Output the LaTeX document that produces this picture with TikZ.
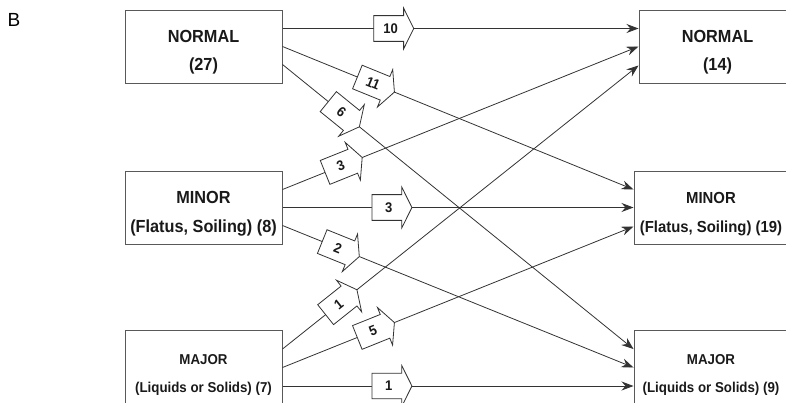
\documentclass[tikz,border=0pt]{standalone}
\usepackage{fontspec}
\setmainfont{Liberation Sans}
\newfontfamily\narrowsans[FakeStretch=0.93]{Liberation Sans}
\usetikzlibrary{positioning,shapes.arrows,arrows.meta}

\newcommand{\twoline}[3]{\rule{0pt}{24pt}#2\\[#1]#3}

\tikzset{
  grade/.style={draw=black!65, line width=1pt, inner sep=2pt, align=center, text=black!90},
  gradebig/.style={grade, minimum width=157pt, minimum height=73pt,
    font=\narrowsans\bfseries\fontsize{17.5}{21}\selectfont},
  gradesmall/.style={grade, minimum width=157pt, minimum height=75pt,
    font=\narrowsans\bfseries\fontsize{14.3}{17}\selectfont},
  flow/.style={draw=black!80, line width=0.8pt, fill=white, single arrow,
    single arrow head extend=7.5pt, single arrow tip angle=127,
    minimum height=40pt, minimum width=40pt, inner sep=7.5pt,
    anchor=tip, sloped, text=black!90,
    font=\narrowsans\bfseries\fontsize{14}{16}\selectfont},
}

\begin{document}
\begin{tikzpicture}[x=1pt, y=-1pt, line width=0.8pt, draw=black!80,
    >={Stealth[length=12pt,width=9pt,inset=4pt]}]
    \useasboundingbox (0,0) rectangle (786,402);
    \node[font=\fontsize{19}{22}\selectfont] (panel) at (14,20) {B};
    % before
    \node[gradebig] (norml) at (203.5,46.5) {\twoline{7pt}{NORMAL}{(27)}};
    \node[gradebig, below = 87pt of norml] (minl) {\twoline{8pt}{MINOR}{(Flatus, Soiling) (8)}};
    \node[gradesmall, below = 85pt of minl] (majl) {\twoline{11pt}{MAJOR}{(Liquids or Solids) (7)}};
    % after
    \node[gradebig, right = 356pt of norml] (normr) {\twoline{7pt}{NORMAL}{(14)}};
    \node[gradebig, minimum width=154pt, font=\narrowsans\bfseries\fontsize{16}{20}\selectfont,
      right = 351pt of minl] (minr) {\twoline{9pt}{MINOR}{(Flatus, Soiling) (19)}};
    \node[gradesmall, minimum width=154pt, right = 351pt of majl] (majr) {\twoline{11pt}{MAJOR}{(Liquids or Solids) (9)}};
    % from normal
    \draw[->] ([yshift=18pt]norml.east) -- node[flow, pos=.37] {10} ([yshift=18pt]normr.west);
    \draw[->] (norml.east) -- node[flow, pos=.32] {11} ([yshift=18pt]minr.west);
    \draw[->] ([yshift=-18pt]norml.east) -- node[flow, pos=.22] {6} ([yshift=18.5pt]majr.west);
    % from minor
    \draw[->] ([yshift=18pt]minl.east) -- node[flow, pos=.225] {3} (normr.west);
    \draw[->] (minl.east) -- node[flow, pos=.37] {3} (minr.west);
    \draw[->] ([yshift=-18pt]minl.east) -- node[flow, pos=.22] {2} (majr.west);
    % from major
    \draw[->] ([yshift=18.5pt]majl.east) -- node[flow, pos=.21] {1} ([yshift=-19pt]normr.west);
    \draw[->] (majl.east) -- node[flow, pos=.32] {5} ([yshift=-19pt]minr.west);
    \draw[->] ([yshift=-18.5pt]majl.east) -- node[flow, pos=.37] {1} ([yshift=-18.5pt]majr.west);
\end{tikzpicture}
\end{document}
